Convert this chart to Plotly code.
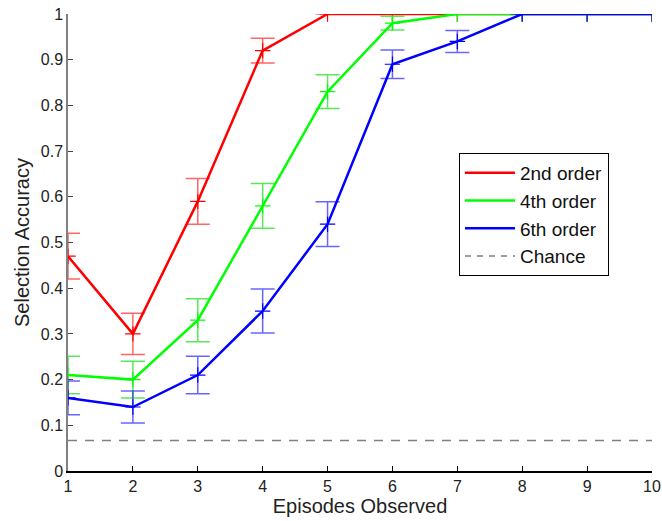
import plotly.graph_objects as go

episodes = [1, 2, 3, 4, 5, 6, 7, 8, 9, 10]

order2_mean = [0.47, 0.30, 0.59, 0.92, 1.0, 1.0, 1.0, 1.0, 1.0, 1.0]
order2_err = [0.05, 0.045, 0.05, 0.027, 0.0, 0.0, 0.0, 0.0, 0.0, 0.0]

order4_mean = [0.21, 0.20, 0.33, 0.58, 0.83, 0.98, 1.0, 1.0, 1.0, 1.0]
order4_err = [0.041, 0.04, 0.047, 0.049, 0.037, 0.015, 0.0, 0.0, 0.0, 0.0]

order6_mean = [0.16, 0.14, 0.21, 0.35, 0.54, 0.89, 0.94, 1.0, 1.0, 1.0]
order6_err = [0.037, 0.035, 0.041, 0.048, 0.049, 0.031, 0.024, 0.0, 0.0, 0.0]

chance_level = 1 / 15

series = [
    ("2nd order", order2_mean, order2_err, "#ff0000", "rgba(255,0,0,0.6)"),
    ("4th order", order4_mean, order4_err, "#00ff00", "rgba(0,220,0,0.65)"),
    ("6th order", order6_mean, order6_err, "#0000ff", "rgba(0,0,255,0.6)"),
]

fig = go.Figure()
for name, mean, err, col, ecol in series:
    fig.add_trace(go.Scatter(
        x=episodes, y=mean, name=name, mode="lines+markers", showlegend=False,
        line=dict(color=col, width=2.5),
        marker=dict(symbol="cross-thin", size=11, line=dict(color=col, width=1.2)),
        error_y=dict(type="data", array=err, visible=True, color=ecol,
                     thickness=1.5, width=12),
    ))

fig.add_trace(go.Scatter(
    x=[episodes[0], episodes[-1]], y=[chance_level, chance_level],
    name="Chance", mode="lines", showlegend=False,
    line=dict(color="#808080", width=1.5, dash="9px,8px"),
))

# legend-only entries (line samples, no markers)
for name, mean, err, col, ecol in series:
    fig.add_trace(go.Scatter(
        x=[None], y=[None], name=name, mode="lines",
        line=dict(color=col, width=2.5),
    ))
fig.add_trace(go.Scatter(
    x=[None], y=[None], name="Chance", mode="lines",
    line=dict(color="#808080", width=1.5, dash="6px,6px"),
))

font_family = "Liberation Sans, Arial, Helvetica, sans-serif"
fig.update_layout(
    width=662, height=521,
    margin=dict(l=68, r=10, t=14, b=50, autoexpand=False),
    paper_bgcolor="white", plot_bgcolor="white",
    font=dict(family=font_family, size=16, color="#222"),
    showlegend=True,
    legend=dict(
        x=0.6695, y=0.696, xanchor="left", yanchor="top",
        bordercolor="black", borderwidth=1, bgcolor="white",
        font=dict(size=19, color="#111"),
        tracegroupgap=0, itemwidth=50,
    ),
    xaxis=dict(
        range=[1, 10], tickvals=episodes, ticktext=[str(e) for e in episodes],
        showgrid=False, zeroline=False, showline=True, linecolor="black",
        linewidth=1.5, ticks="inside", ticklen=5, tickcolor="black",
        automargin=False, ticklabeloverflow="allow",
        title=dict(text="Episodes Observed", font=dict(size=20), standoff=2),
    ),
    yaxis=dict(
        range=[0, 1], tickvals=[0, 0.1, 0.2, 0.3, 0.4, 0.5, 0.6, 0.7, 0.8, 0.9, 1],
        ticktext=["0", "0.1", "0.2", "0.3", "0.4", "0.5", "0.6", "0.7", "0.8", "0.9", "1"],
        showgrid=False, zeroline=False, showline=True, linecolor="#808080",
        linewidth=1.5, ticks="inside", ticklen=5, tickcolor="#444",
        automargin=False, ticklabeloverflow="allow",
        title=dict(text="Selection Accuracy", font=dict(size=20), standoff=6),
    ),
)

fig.write_html(
    "out.html",
    config={"displayModeBar": False},
    post_script="document.body.style.margin='0';document.body.style.overflow='hidden';",
)
